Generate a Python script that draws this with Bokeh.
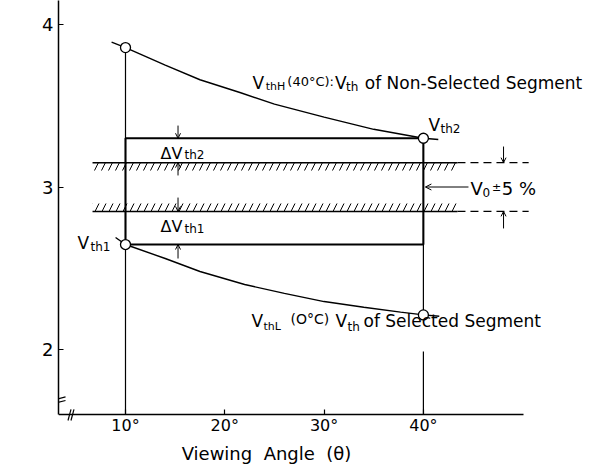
import math
from bokeh.plotting import figure
from bokeh.models import Range1d, LinearAxis, FixedTicker, Label, Arrow, OpenHead
from bokeh.embed import file_html
from bokeh.resources import INLINE

# ---------------- data ----------------
angle_ticks = [10, 20, 30, 40]
angle_labels = ["10°", "20°", "30°", "40°"]
volt_ticks = [2, 3, 4]

# VthH (40 C): Vth of non-selected segment
angle_hi = [8.6, 10, 14, 17.5, 21.6, 25, 30, 35, 40, 41.5]
vth_hi = [3.891, 3.858, 3.75, 3.66, 3.58, 3.51, 3.43, 3.355, 3.30, 3.292]
# VthL (0 C): Vth of selected segment
angle_lo = [9.0, 10, 14, 17.5, 22, 26, 30, 34, 37.7, 40, 41.6]
vth_lo = [2.689, 2.646, 2.56, 2.48, 2.40, 2.345, 2.295, 2.26, 2.23, 2.213, 2.205]

# key points (circles)
angle_a, angle_b = 10, 40
vth_hi_a, vth_hi_b = 3.858, 3.30   # Vth2 = VthH at 40 deg
vth_lo_a, vth_lo_b = 2.646, 2.213  # Vth1 = VthL at 10 deg
V0 = 3.0
tol_pct = 5
tol = V0 * tol_pct / 100  # +-5 %

# ---------------- layout ----------------
PX_DEG = 9.93
PX_V = 162.5
W, H = 593, 468
LEFT = 58
AXIS_PX = 414          # pixel row of the x axis
X0 = 3.253
X1 = X0 + (W - LEFT) / PX_DEG
Y_AXIS = 1.6           # voltage where the (broken) axis sits
Y0 = Y_AXIS - (H - AXIS_PX) / PX_V
Y1 = Y_AXIS + AXIS_PX / PX_V
X_AXIS_END = 50.08
FONT = "DejaVu Sans"
NB = "\u00a0"

p = figure(width=W, height=H, output_backend="svg", toolbar_location=None,
           x_range=Range1d(X0, X1), y_range=Range1d(Y0, Y1),
           x_axis_type=None, y_axis_type=None,
           min_border_left=LEFT, min_border_right=0, min_border_top=0,
           min_border_bottom=0, outline_line_color=None,
           background_fill_color="white", border_fill_color="white")

xaxis = LinearAxis(ticker=FixedTicker(ticks=angle_ticks),
                   major_label_overrides={t: l for t, l in zip(angle_ticks, angle_labels)},
                   bounds=(X0, X_AXIS_END), fixed_location=Y_AXIS,
                   major_tick_in=5, major_tick_out=0,
                   minor_tick_in=0, minor_tick_out=0, axis_line_width=1.5,
                   major_tick_line_width=1.2,
                   major_label_text_font=FONT, major_label_text_font_size="16px",
                   major_label_text_color="black", major_label_standoff=1)
yaxis = LinearAxis(ticker=FixedTicker(ticks=volt_ticks), bounds=(Y_AXIS, Y1),
                   major_tick_in=5, major_tick_out=0,
                   minor_tick_in=0, minor_tick_out=0, axis_line_width=1.5,
                   major_tick_line_width=1.2,
                   major_label_text_font=FONT, major_label_text_font_size="18px",
                   major_label_text_color="black", major_label_standoff=5)
p.add_layout(xaxis, "below")
p.add_layout(yaxis, "left")

BLACK = "black"

# hatched tolerance bands (V0 +- 5 %)
band_left, band_right, dash_right = 6.68, 43.43, 50.6
hatch_h = 0.049
p.quad(left=[band_left, band_left], right=[band_right, band_right],
       bottom=[V0 + tol - hatch_h, V0 - tol], top=[V0 + tol, V0 - tol + hatch_h],
       fill_color=None, line_color=None, hatch_pattern="/", hatch_color=BLACK,
       hatch_scale=14, hatch_weight=1)
p.segment(x0=[band_left, band_left], x1=[band_right, band_right],
          y0=[V0 + tol, V0 - tol], y1=[V0 + tol, V0 - tol],
          line_color=BLACK, line_width=1.5)
p.segment(x0=[band_right, band_right], x1=[dash_right, dash_right],
          y0=[V0 + tol, V0 - tol], y1=[V0 + tol, V0 - tol],
          line_color=BLACK, line_width=1.2, line_dash="8 5")

# vertical lines at 10 and 40 degrees
p.segment(x0=[angle_a, angle_b, angle_b], x1=[angle_a, angle_b, angle_b],
          y0=[vth_hi_a, vth_hi_b, 1.988], y1=[Y_AXIS, vth_lo_b, Y_AXIS],
          line_color=BLACK, line_width=1.2)

# Delta-Vth rectangle
p.quad(left=[angle_a], right=[angle_b], bottom=[vth_lo_a], top=[vth_hi_b],
       fill_color=None, line_color=BLACK, line_width=2)

# curves
p.line(angle_hi, vth_hi, line_color=BLACK, line_width=1.4)
p.line(angle_lo, vth_lo, line_color=BLACK, line_width=1.4)

# open circles
p.scatter([angle_a, angle_b, angle_a, angle_b], [vth_hi_a, vth_hi_b, vth_lo_a, vth_lo_b],
          marker="circle", size=10, fill_color="white", line_color=BLACK, line_width=1.3)

# arrows
def arrow(x0, y0, x1, y1, size=5):
    p.add_layout(Arrow(end=OpenHead(size=size, line_width=1, line_color=BLACK),
                       x_start=x0, y_start=y0, x_end=x1, y_end=y1,
                       line_color=BLACK, line_width=1))

xa = 15.29
arrow(xa, 3.378, xa, vth_hi_b)
arrow(xa, 3.071, xa, V0 + tol)
arrow(xa, 2.935, xa, V0 - tol)
arrow(xa, 2.56, xa, vth_lo_a)
xr = 48.07
arrow(xr, 3.249, xr, V0 + tol)
arrow(xr, 2.745, xr, V0 - tol)
arrow(44.54, V0, 40.2, V0, size=6)

# axis break marks
def stroke(x0, y0, x1, y1):
    p.add_layout(Arrow(end=None, x_start=x0, y_start=y0, x_end=x1, y_end=y1,
                       line_color=BLACK, line_width=1.2))

stroke(2.71, 1.689, 3.96, 1.708)
stroke(2.71, 1.668, 3.96, 1.686)
stroke(4.21, 1.563, 4.51, 1.631)
stroke(4.51, 1.563, 4.81, 1.631)

# texts
DY = 0.034  # lift so the glyphs sit on the intended baselines

def put(x, y, text, size, **kw):
    opts = dict(text_font=FONT, text_font_size=f"{size}px", text_color=BLACK,
                text_align="left", text_baseline="alphabetic")
    opts.update(kw)
    lift = DY if opts["text_baseline"] == "alphabetic" else 0
    p.add_layout(Label(x=x, y=y + lift, text=text, **opts))

# upper label
put(22.79, 3.606, "V", 17)
put(24.12, 3.582, "thH", 11)
put(26.3, 3.618, "(40°C):", 13)
put(31.1, 3.606, "V", 17)
put(32.2, 3.582, "th", 12)
put(34.1, 3.606, "of Non-Selected Segment", 17)

# lower label
put(22.69, 2.142, "V", 17)
put(23.90, 2.105, "thL", 11)
put(26.62, 2.154, "(O°C)", 14)
put(31.15, 2.142, "V", 17)
put(32.36, 2.105, "th", 12)
put(33.97, 2.142, "of Selected Segment", 17)

# Vth1 / Vth2
put(5.17, 2.622, "V", 17)
put(6.48, 2.597, "th1", 12)
put(40.51, 3.348, "V", 17)
put(41.72, 3.323, "th2", 12)

# Delta Vth
put(13.52, 3.175, "ΔV", 16)
put(15.94, 3.166, "th2", 12)
put(13.52, 2.72, "ΔV", 16)
put(15.94, 2.708, "th1", 12)

# V0 +- 5 %
put(44.74, 2.954, "V", 18)
put(45.95, 2.935, "0", 12)
put(46.9, 2.965, "±", 11)
put(47.9, 2.954, "5 %", 18)

# axis titles
put(-0.78, 2.708, "Threshold Voltage" + NB + " (V)", 17, angle=math.pi / 2,
    text_align="center", text_baseline="middle")
put(24.2, 1.36, "Viewing" + NB + " Angle" + NB + " (θ)", 18,
    text_align="center", text_baseline="middle")

open("out.html", "w").write(file_html(p, INLINE))
